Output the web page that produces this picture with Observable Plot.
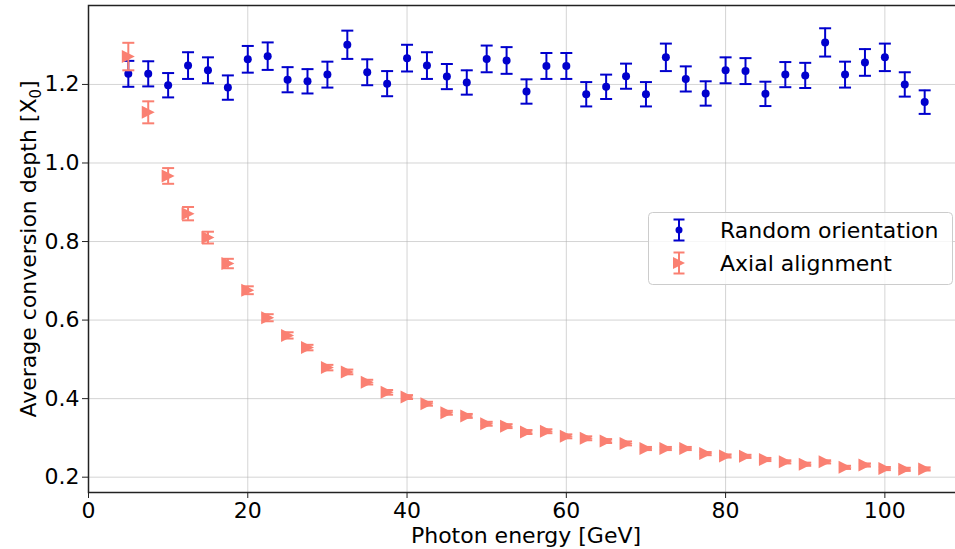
<!DOCTYPE html>
<html>
<head>
<meta charset="utf-8">
<script src="https://cdn.jsdelivr.net/npm/d3@7"></script>
<script src="https://cdn.jsdelivr.net/npm/@observablehq/plot@0.6"></script>
<style>
  body { margin: 0; background: #fff; }
  #wrap { position: relative; width: 955px; height: 549px; overflow: hidden; background: #fff; font-family: "DejaVu Sans", sans-serif; }
  #wrap > svg.plot { max-width: none !important; }
  #legend { position: absolute; left: 648px; top: 212px; }
</style>
</head>
<body>
<div id="wrap"></div>
<script>
const energy = [5, 7.5, 10, 12.5, 15, 17.5, 20, 22.5, 25, 27.5,
                30, 32.5, 35, 37.5, 40, 42.5, 45, 47.5, 50, 52.5,
                55, 57.5, 60, 62.5, 65, 67.5, 70, 72.5, 75, 77.5,
                80, 82.5, 85, 87.5, 90, 92.5, 95, 97.5, 100, 102.5, 105];
const randomDepth = [1.227, 1.227, 1.198, 1.248, 1.236, 1.192, 1.264, 1.272, 1.212, 1.208,
                     1.225, 1.301, 1.231, 1.202, 1.267, 1.248, 1.220, 1.205, 1.265, 1.261,
                     1.182, 1.247, 1.247, 1.175, 1.194, 1.221, 1.175, 1.269, 1.214, 1.177,
                     1.236, 1.234, 1.176, 1.225, 1.223, 1.307, 1.225, 1.256, 1.269, 1.200, 1.155];
const randomErr = [0.033, 0.032, 0.031, 0.034, 0.033, 0.031, 0.034, 0.035, 0.032, 0.031,
                   0.033, 0.036, 0.033, 0.032, 0.034, 0.034, 0.032, 0.031, 0.034, 0.034,
                   0.031, 0.033, 0.033, 0.031, 0.031, 0.032, 0.031, 0.035, 0.032, 0.031,
                   0.033, 0.033, 0.031, 0.032, 0.032, 0.036, 0.033, 0.034, 0.035, 0.031, 0.030];
const axialDepth = [1.271, 1.129, 0.967, 0.871, 0.810, 0.744, 0.676, 0.606, 0.561, 0.530,
                    0.479, 0.468, 0.442, 0.416, 0.404, 0.387, 0.364, 0.356, 0.336, 0.330,
                    0.315, 0.317, 0.304, 0.299, 0.292, 0.286, 0.273, 0.273, 0.273, 0.260,
                    0.254, 0.253, 0.245, 0.239, 0.233, 0.239, 0.225, 0.231, 0.222, 0.220, 0.221];
const axialErr = [0.035, 0.028, 0.020, 0.017, 0.015, 0.012, 0.010, 0.009, 0.008, 0.007,
                  0.007, 0.006, 0.006, 0.006, 0.005, 0.005, 0.005, 0.005, 0.005, 0.005,
                  0.005, 0.005, 0.005, 0.005, 0.005, 0.005, 0.004, 0.004, 0.004, 0.004,
                  0.004, 0.004, 0.004, 0.004, 0.004, 0.004, 0.004, 0.004, 0.004, 0.004, 0.004];
const xTicks = [0, 20, 40, 60, 80, 100];
const yTicks = [0.2, 0.4, 0.6, 0.8, 1.0, 1.2];
const seriesNames = ["Random orientation", "Axial alignment"];
const xLabel = "Photon energy [GeV]";
const yLabel = "Average conversion depth [X";
const yLabelSub = "0";
const yLabelEnd = "]";

const BLUE = "#0000cd";
const SALMON = "#fa8072";

const random = energy.map((e, i) => ({energy: e, depth: randomDepth[i], err: randomErr[i]}));
const axial = energy.map((e, i) => ({energy: e, depth: axialDepth[i], err: axialErr[i]}));

const capSymbol = {draw(ctx, size) { const r = Math.sqrt(size / Math.PI); ctx.moveTo(-r, 0); ctx.lineTo(r, 0); }};
const triRight = {draw(ctx, size) { const r = Math.sqrt(size / Math.PI); ctx.moveTo(r, 0); ctx.lineTo(-r, -r); ctx.lineTo(-r, r); ctx.closePath(); }};

function errorMarks(data, color) {
  return [
    Plot.ruleX(data, {x: "energy", y1: d => d.depth - d.err, y2: d => d.depth + d.err, stroke: color, strokeWidth: 2}),
    Plot.dot(data, {x: "energy", y: d => d.depth - d.err, symbol: capSymbol, r: 6, stroke: color, fill: "none", strokeWidth: 2}),
    Plot.dot(data, {x: "energy", y: d => d.depth + d.err, symbol: capSymbol, r: 6, stroke: color, fill: "none", strokeWidth: 2})
  ];
}

const svg = Plot.plot({
  width: 964, height: 549,
  marginLeft: 88, marginRight: 0, marginTop: 5, marginBottom: 57,
  x: {domain: [0, 110]},
  y: {domain: [0.161, 1.401]},
  style: {fontFamily: "DejaVu Sans", fontSize: "22px", color: "#000", background: "#fff", overflow: "visible", maxWidth: "none"},
  marks: [
    Plot.gridX(xTicks, {stroke: "#b0b0b0", strokeOpacity: 0.55, strokeWidth: 1}),
    Plot.gridY(yTicks, {stroke: "#b0b0b0", strokeOpacity: 0.55, strokeWidth: 1}),
    Plot.axisX(xTicks, {tickSize: 6, tickPadding: 3.5, label: null, tickFormat: d => String(d), stroke: "#222"}),
    Plot.axisY(yTicks, {tickSize: 6, tickPadding: 3, label: null, tickFormat: d3.format(".1f"), stroke: "#222"}),
    ...errorMarks(random, BLUE),
    Plot.dot(random, {x: "energy", y: "depth", r: 4, fill: BLUE}),
    ...errorMarks(axial, SALMON),
    Plot.dot(axial, {x: "energy", y: "depth", symbol: triRight, r: 6.5, fill: SALMON, stroke: "none"}),
    Plot.frame({stroke: "#222", strokeWidth: 1.5})
  ]
});

const wrap = document.getElementById("wrap");
svg.style.maxWidth = "none";
svg.style.width = "964px";
svg.style.height = "549px";
wrap.appendChild(svg);

const s = d3.select(svg);
s.append("text")
  .attr("x", (88 + 964) / 2).attr("y", 543)
  .attr("text-anchor", "middle")
  .attr("fill", "#000")
  .style("font-size", "22px")
  .text(xLabel);

const yl = s.append("text")
  .attr("transform", "translate(36,249) rotate(-90)")
  .attr("text-anchor", "middle")
  .attr("fill", "#000")
  .style("font-size", "22px");
yl.append("tspan").text(yLabel);
yl.append("tspan").attr("dy", 5).style("font-size", "15px").text(yLabelSub);
yl.append("tspan").attr("dy", -5).text(yLabelEnd);

// legend
const lg = d3.select(wrap).append("svg")
  .attr("id", "legend").attr("width", 306).attr("height", 75)
  .style("font-family", "DejaVu Sans").style("font-size", "22px");
lg.append("rect").attr("x", 0.5).attr("y", 0.5).attr("width", 304).attr("height", 72)
  .attr("rx", 4).attr("fill", "#fff").attr("fill-opacity", 0.8).attr("stroke", "#cccccc");
const rows = [
  {name: seriesNames[0], color: BLUE, cy: 18, kind: "dot"},
  {name: seriesNames[1], color: SALMON, cy: 51, kind: "tri"}
];
rows.forEach(r => {
  const g = lg.append("g").attr("transform", `translate(31,${r.cy})`);
  g.append("line").attr("y1", -10.5).attr("y2", 10.5).attr("stroke", r.color).attr("stroke-width", 2);
  g.append("line").attr("x1", -5.5).attr("x2", 5.5).attr("y1", -10.5).attr("y2", -10.5).attr("stroke", r.color).attr("stroke-width", 2);
  g.append("line").attr("x1", -5.5).attr("x2", 5.5).attr("y1", 10.5).attr("y2", 10.5).attr("stroke", r.color).attr("stroke-width", 2);
  if (r.kind === "dot") g.append("circle").attr("r", 3.5).attr("fill", r.color);
  else g.append("path").attr("d", "M6,0L-6,-6L-6,6Z").attr("fill", r.color);
  lg.append("text").attr("x", 72).attr("y", r.cy + 8).attr("fill", "#000").text(r.name);
});
</script>
</body>
</html>
